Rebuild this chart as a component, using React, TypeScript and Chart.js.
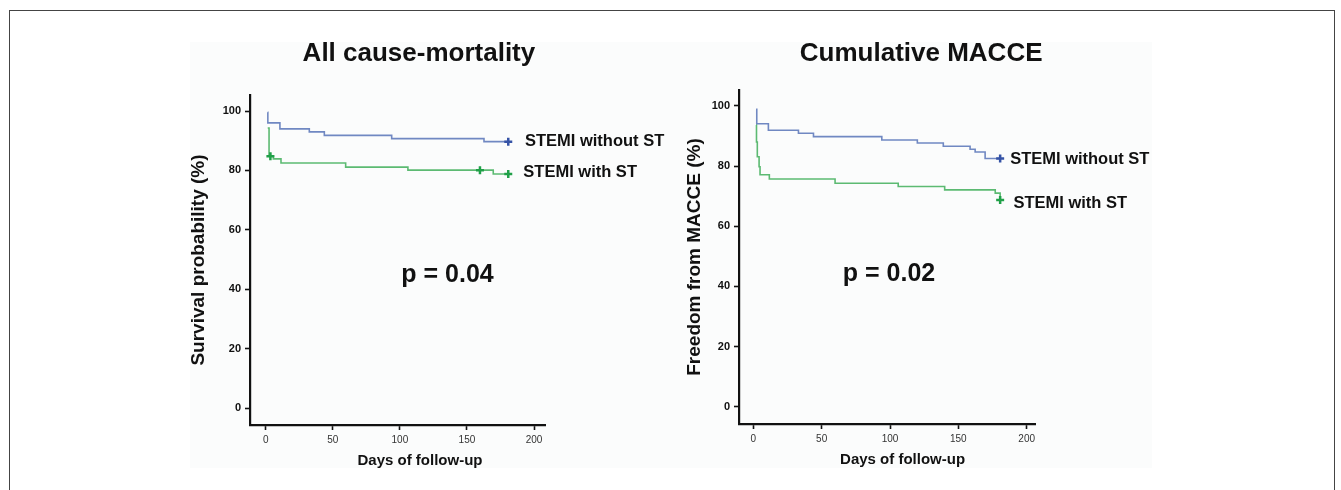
import React, { useEffect, useRef } from "react";
import { Chart, registerables } from "chart.js";

Chart.register(...registerables);

const FONT = '"Liberation Sans", Arial, Helvetica, sans-serif';

// ---------- Data ----------
const seriesNames = ["STEMI without ST", "STEMI with ST"];
const xTicks = [0, 50, 100, 150, 200];
const yTicks = [0, 20, 40, 60, 80, 100];

// Panel 1: All cause-mortality (survival probability, %)
const mortWithoutDays = [1.5, 1.6, 10.6, 32.5, 43.7, 93.9, 162.7, 180.8];
const mortWithoutSurv = [99.6, 96.0, 94.0, 93.0, 91.8, 90.7, 89.7, 89.7];
const mortWithoutCensor = [0, 0, 0, 0, 0, 0, 0, 1];

const mortWithDays = [1.5, 2.5, 3.5, 5.7, 11.4, 59.6, 106, 159.7, 169.6, 180.8];
const mortWithSurv = [94.3, 85.5, 84.8, 83.9, 82.5, 81.1, 80.1, 80.1, 78.8, 78.8];
const mortWithCensor = [0, 0, 1, 0, 0, 0, 0, 1, 0, 1];

// Panel 2: Cumulative MACCE (freedom from MACCE, %)
const macceWithoutDays = [2.0, 2.5, 11, 33, 44, 94, 120, 139, 158.6, 162.3, 169.6, 180.6];
const macceWithoutFree = [98.9, 94.1, 91.9, 90.9, 89.8, 88.7, 87.7, 86.6, 85.6, 84.7, 82.5, 82.5];
const macceWithoutCensor = [0, 0, 0, 0, 0, 0, 0, 0, 0, 0, 0, 1];

const macceWithDays = [2.0, 2.3, 2.9, 4.2, 4.9, 11.7, 59.8, 106, 140, 177, 180.6];
const macceWithFree = [93.7, 88, 83.1, 79.8, 77.1, 75.7, 74.3, 73.2, 72.1, 71.0, 68.7];
const macceWithCensor = [0, 0, 0, 0, 0, 0, 0, 0, 0, 0, 1];

const titles = ["All cause-mortality", "Cumulative MACCE"];
const yTitles = ["Survival probability (%)", "Freedom from MACCE (%)"];
const xTitle = "Days of follow-up";
const pValues = ["p = 0.04", "p = 0.02"];

// ---------- Styles ----------
const BLUE = "#7088c2";
const BLUE_MARK = "#3553a6";
const GREEN = "#5cba72";
const GREEN_MARK = "#20a048";

type TextItem = { text: string; x: number; y: number; font: string; align: CanvasTextAlign };

function makeTextPlugin(items: TextItem[]) {
  return {
    id: "freeTexts",
    afterDraw(chart: any) {
      const { ctx } = chart;
      const xs = chart.scales.x;
      const ys = chart.scales.y;
      ctx.save();
      ctx.fillStyle = "#111";
      ctx.textBaseline = "alphabetic";
      for (const t of items) {
        ctx.font = t.font;
        ctx.textAlign = t.align;
        ctx.fillText(t.text, xs.getPixelForValue(t.x), ys.getPixelForValue(t.y));
      }
      ctx.restore();
    },
  };
}

function series(days: number[], vals: number[], censor: number[], color: string, mark: string, label: string) {
  return {
    label,
    data: days.map((d, i) => ({ x: d, y: vals[i] })),
    borderColor: color,
    borderWidth: 1.6,
    stepped: true,
    fill: false,
    tension: 0,
    pointStyle: "cross",
    pointRadius: censor.map((c) => (c ? 4 : 0)),
    pointHoverRadius: 0,
    pointBorderWidth: 2.5,
    pointBorderColor: mark,
    pointBackgroundColor: mark,
  };
}

type PanelCfg = {
  canvasLeft: number;
  canvasWidth: number;
  canvasHeight: number;
  area: { left: number; right: number; top: number; bottom: number };
  xMin: number;
  xMax: number;
  yMin: number;
  yMax: number;
  yTitlePad: number;
  datasets: any[];
  texts: TextItem[];
  yTitle: string;
};

function Panel({ cfg }: { cfg: PanelCfg }) {
  const ref = useRef<HTMLCanvasElement | null>(null);
  useEffect(() => {
    if (!ref.current) return;
    const a = cfg.area;
    const yWidth = a.left - cfg.canvasLeft;
    const xHeight = cfg.canvasHeight - a.bottom;
    const chart = new Chart(ref.current, {
      type: "line",
      data: { datasets: cfg.datasets },
      options: {
        animation: false,
        responsive: false,
        events: [],
        layout: {
          padding: {
            left: 0,
            top: a.top,
            bottom: 0,
            right: cfg.canvasLeft + cfg.canvasWidth - a.right,
          },
        },
        plugins: { legend: { display: false }, tooltip: { enabled: false }, title: { display: false } },
        scales: {
          x: {
            type: "linear",
            min: cfg.xMin,
            max: cfg.xMax,
            afterBuildTicks: (s: any) => {
              s.ticks = xTicks.map((v) => ({ value: v }));
            },
            afterFit: (s: any) => {
              s.height = xHeight;
            },
            border: { display: true, color: "#111", width: 2.2 },
            grid: { display: true, drawOnChartArea: false, drawTicks: true, tickLength: 5, tickWidth: 1.6, tickColor: "#111" },
            ticks: {
              autoSkip: false,
              maxRotation: 0,
              padding: 4,
              color: "#333",
              font: { family: FONT, size: 10 },
            },
          },
          y: {
            type: "linear",
            min: cfg.yMin,
            max: cfg.yMax,
            afterBuildTicks: (s: any) => {
              s.ticks = yTicks.map((v) => ({ value: v }));
            },
            afterFit: (s: any) => {
              s.width = yWidth;
            },
            border: { display: true, color: "#111", width: 2.2 },
            grid: { display: true, drawOnChartArea: false, drawTicks: true, tickLength: 5, tickWidth: 1.6, tickColor: "#111" },
            ticks: {
              autoSkip: false,
              padding: 4,
              color: "#111",
              font: { family: FONT, size: 11, weight: "bold" },
            },
            title: {
              display: true,
              text: cfg.yTitle,
              color: "#111",
              font: { family: FONT, size: 19, weight: "bold", lineHeight: 1.2 },
              padding: { top: cfg.yTitlePad, bottom: 0 },
            },
          },
        },
      } as any,
      plugins: [makeTextPlugin(cfg.texts)],
    });
    return () => chart.destroy();
  }, [cfg]);
  return (
    <canvas
      ref={ref}
      width={cfg.canvasWidth}
      height={cfg.canvasHeight}
      style={{ position: "absolute", left: cfg.canvasLeft, top: 0, width: cfg.canvasWidth, height: cfg.canvasHeight }}
    />
  );
}

const TITLE_FONT = `bold 26px ${FONT}`;
const LABEL_FONT = `bold 16.5px ${FONT}`;
const P_FONT = `bold 25px ${FONT}`;
const XT_FONT = `bold 15px ${FONT}`;

const panel1: PanelCfg = {
  canvasLeft: 150,
  canvasWidth: 520,
  canvasHeight: 490,
  area: { left: 250, right: 545.7, top: 95, bottom: 425 },
  xMin: -11.7,
  xMax: 208.7,
  yMin: -5.72,
  yMax: 105.4,
  yTitlePad: 37.6,
  yTitle: yTitles[0],
  datasets: [
    series(mortWithoutDays, mortWithoutSurv, mortWithoutCensor, BLUE, BLUE_MARK, seriesNames[0]),
    series(mortWithDays, mortWithSurv, mortWithCensor, GREEN, GREEN_MARK, seriesNames[1]),
  ],
  texts: [
    { text: titles[0], x: 114.2, y: 116.8, font: TITLE_FONT, align: "center" },
    { text: seriesNames[0], x: 193.2, y: 88.2, font: LABEL_FONT, align: "left" },
    { text: seriesNames[1], x: 192.0, y: 77.9, font: LABEL_FONT, align: "left" },
    { text: pValues[0], x: 135.5, y: 42.5, font: P_FONT, align: "center" },
    { text: xTitle, x: 115, y: -19.2, font: XT_FONT, align: "center" },
  ],
};

const panel2: PanelCfg = {
  canvasLeft: 670,
  canvasWidth: 530,
  canvasHeight: 490,
  area: { left: 739, right: 1035, top: 90, bottom: 424 },
  xMin: -10.5,
  xMax: 206.1,
  yMin: -5.75,
  yMax: 105.3,
  yTitlePad: 13.6,
  yTitle: yTitles[1],
  datasets: [
    series(macceWithoutDays, macceWithoutFree, macceWithoutCensor, BLUE, BLUE_MARK, seriesNames[0]),
    series(macceWithDays, macceWithFree, macceWithCensor, GREEN, GREEN_MARK, seriesNames[1]),
  ],
  texts: [
    { text: titles[1], x: 122.8, y: 115.0, font: TITLE_FONT, align: "center" },
    { text: seriesNames[0], x: 187.9, y: 80.7, font: LABEL_FONT, align: "left" },
    { text: seriesNames[1], x: 190.3, y: 66.0, font: LABEL_FONT, align: "left" },
    { text: pValues[1], x: 99.3, y: 41.8, font: P_FONT, align: "center" },
    { text: xTitle, x: 109.2, y: -19.1, font: XT_FONT, align: "center" },
  ],
};

export default function App() {
  return (
    <div
      style={{
        position: "absolute",
        left: 0,
        top: 0,
        width: 1341,
        height: 490,
        overflow: "hidden",
        background: "#ffffff",
      }}
    >
      <div
        style={{
          position: "absolute",
          left: 9,
          top: 10,
          width: 1326,
          height: 600,
          border: "1px solid #444",
          boxSizing: "border-box",
        }}
      />
      <div
        style={{
          position: "absolute",
          left: 190,
          top: 42,
          width: 962,
          height: 426,
          background: "#fbfcfc",
        }}
      />
      <Panel cfg={panel1} />
      <Panel cfg={panel2} />
    </div>
  );
}
